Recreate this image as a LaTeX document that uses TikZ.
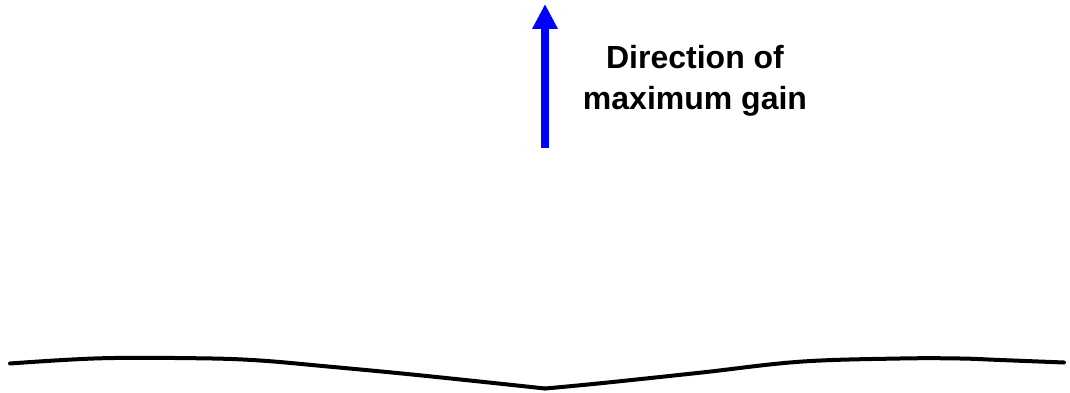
\documentclass[tikz,border=0pt]{standalone}
\usepackage{fontspec}
\setmainfont{Liberation Sans}
\usetikzlibrary{arrows.meta}
\definecolor{arrowblue}{RGB}{0,0,255}
\tikzset{
  gainarrow/.style={draw=arrowblue, line width=8pt, -{Triangle[length=25pt,width=24pt,fill=arrowblue]}},
  surface/.style={draw=black, line width=4pt, line cap=round, line join=round},
  labeltext/.style={font=\bfseries\fontsize{32pt}{41pt}\selectfont, align=center, inner sep=0pt}
}
\begin{document}
\begin{tikzpicture}[x=1pt,y=-1pt]
\useasboundingbox (0,0) rectangle (1070,393);
\coordinate (base) at (545,148);
\coordinate (tip) at (545,4);
\draw[gainarrow] (base) -- (tip);
\node[labeltext] (lbl) at (695,81) {Direction of\\maximum gain};
\draw[surface] plot[smooth, tension=0.6] coordinates {(10,363.5) (100,358.3) (200,358.3) (260,360.5) (330,366.7) (400,373.3) (470,380.5) (545,388.5)};
\draw[surface] plot[smooth, tension=0.6] coordinates {(545,388.5) (600,383.3) (700,372.7) (800,361.7) (900,358.5) (960,358.5) (1000,360) (1064,362.5)};
\end{tikzpicture}
\end{document}
